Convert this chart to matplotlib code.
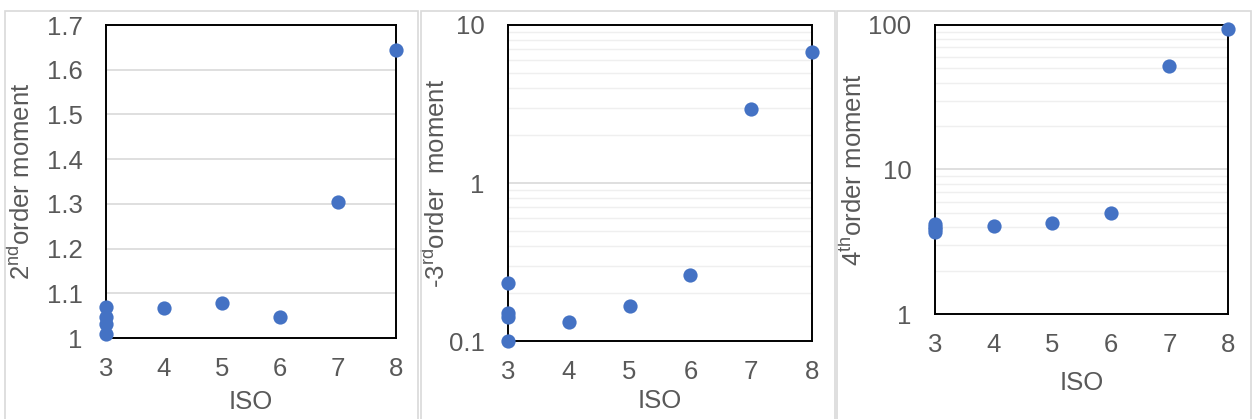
import matplotlib.pyplot as plt
from matplotlib.patches import Rectangle
from matplotlib.ticker import FixedLocator, LogLocator, NullFormatter, FuncFormatter

plt.rcParams['font.family'] = ['Liberation Sans', 'DejaVu Sans']
plt.rcParams['mathtext.fontset'] = 'custom'
plt.rcParams['mathtext.rm'] = 'Liberation Sans'

# ISO levels and the moments measured at each
iso = [3, 3, 3, 3, 4, 5, 6, 7, 8]
moment2 = [1.069, 1.047, 1.031, 1.009, 1.066, 1.078, 1.047, 1.304, 1.644]
moment_neg3 = [0.232, 0.150, 0.141, 0.100, 0.131, 0.166, 0.262, 2.93, 6.7]
moment4 = [4.2, 4.0, 3.85, 3.7, 4.04, 4.28, 4.98, 52.3, 93.8]

x_ticks = [3, 4, 5, 6, 7, 8]

GREY = '#595959'
BLUE = '#4472C4'
FS = 18.5

W, H = 1252, 419
fig = plt.figure(figsize=(W / 100, H / 100), dpi=100)

# light chart-area frames
for x0, x1 in [(5, 418), (421, 835), (837, 1251)]:
    fig.patches.append(Rectangle((x0 / W, -0.05), (x1 - x0) / W, 1 - 11 / H + 0.05,
                                 transform=fig.transFigure, fill=False,
                                 edgecolor='#d9d9d9', linewidth=1.2))


def px_axes(left, top, right, bottom):
    return fig.add_axes([left / W, 1 - bottom / H, (right - left) / W, (bottom - top) / H])


def style(ax, xs, ys, ylabel, xpad):
    ax.scatter(xs, ys, s=105, color=BLUE, zorder=5, clip_on=False, linewidths=0)
    ax.set_xlim(3, 8)
    ax.xaxis.set_major_locator(FixedLocator(x_ticks))
    for s in ax.spines.values():
        s.set_color('black')
        s.set_linewidth(1.4)
        s.set_zorder(4)
    ax.tick_params(axis='both', which='both', length=0, labelsize=FS, labelcolor=GREY)
    ax.tick_params(axis='y', pad=17)
    ax.tick_params(axis='x', pad=14)
    ax.set_xlabel('ISO', fontsize=FS, color=GREY, labelpad=xpad)
    ax.set_ylabel(ylabel, fontsize=FS, color=GREY)
    ax.set_axisbelow(True)


fmt = FuncFormatter(lambda v, p: '%g' % v)

# 2nd order moment (linear)
ax1 = px_axes(106, 25, 396, 338)
ax1.set_ylim(1, 1.7)
ax1.yaxis.set_major_locator(FixedLocator([1, 1.1, 1.2, 1.3, 1.4, 1.5, 1.6, 1.7]))
ax1.yaxis.set_major_formatter(fmt)
ax1.grid(axis='y', color='#d9d9d9', linewidth=1.2)
style(ax1, iso, moment2, r'2$^{\mathrm{nd}}$order moment', 6)
ax1.yaxis.set_label_coords(-0.245, 0.5)

# -3rd order moment (log)
ax2 = px_axes(508, 25, 812, 341)
ax2.set_yscale('log')
ax2.set_ylim(0.1, 10)
ax2.yaxis.set_major_locator(FixedLocator([0.1, 1, 10]))
ax2.yaxis.set_major_formatter(fmt)
ax2.yaxis.set_minor_locator(LogLocator(base=10, subs=range(2, 10)))
ax2.yaxis.set_minor_formatter(NullFormatter())
ax2.grid(axis='y', which='major', color='#d9d9d9', linewidth=1.2)
ax2.grid(axis='y', which='minor', color='#efefef', linewidth=1.0)
style(ax2, iso, moment_neg3, r'-3$^{\mathrm{rd}}$order  moment', 3)
ax2.yaxis.set_label_coords(-0.19, 0.5)

# 4th order moment (log)
ax3 = px_axes(935, 25, 1228, 314)
ax3.set_yscale('log')
ax3.set_ylim(1, 100)
ax3.yaxis.set_major_locator(FixedLocator([1, 10, 100]))
ax3.yaxis.set_major_formatter(fmt)
ax3.yaxis.set_minor_locator(LogLocator(base=10, subs=range(2, 10)))
ax3.yaxis.set_minor_formatter(NullFormatter())
ax3.grid(axis='y', which='major', color='#d9d9d9', linewidth=1.2)
ax3.grid(axis='y', which='minor', color='#efefef', linewidth=1.0)
style(ax3, iso, moment4, r'4$^{\mathrm{th}}$order moment', 10)
ax3.yaxis.set_label_coords(-0.232, 0.5)

fig.savefig('out.png', dpi=100)
